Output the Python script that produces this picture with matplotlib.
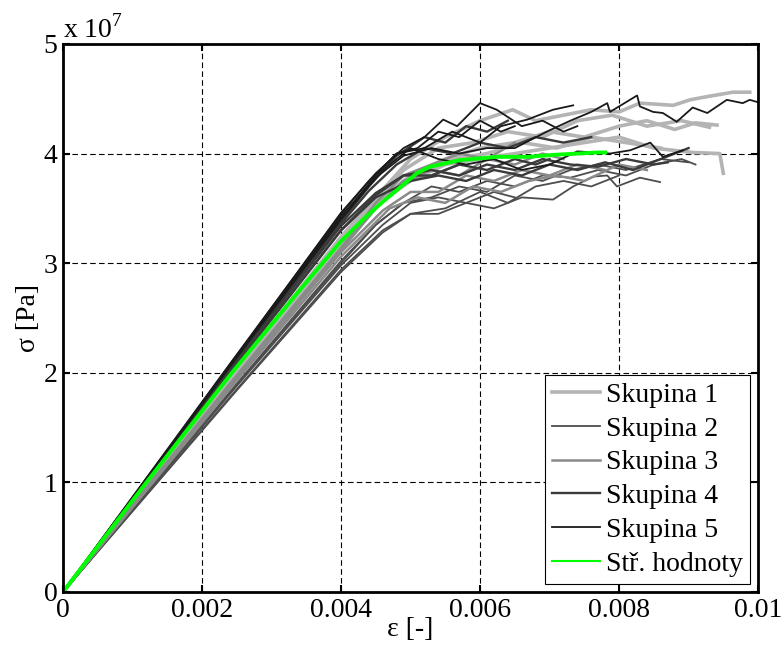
import matplotlib
matplotlib.use('Agg')
import matplotlib.pyplot as plt
from matplotlib.lines import Line2D
from matplotlib.ticker import FuncFormatter
import numpy as np

# strain in 1e-3, stress in 1e7 Pa
# Skupina 1
g1_e = [
    [0, 2.4, 4.0, 4.5, 5.0, 5.5, 6.0, 6.47, 6.8, 7.2, 7.6, 8.0, 8.3, 8.78, 9.02, 9.27, 9.64, 9.88],
    [0, 2.4, 4.0, 4.6, 5.0, 5.5, 6.0, 6.5, 7.0, 7.5, 8.0, 8.4, 8.8, 9.1, 9.41],
    [0, 2.4, 4.0, 4.6, 5.0, 5.5, 6.0, 6.5, 7.0, 7.5, 8.0, 8.5, 9.06, 9.45, 9.5],
    [0, 2.4, 4.0, 4.5, 4.9, 5.4, 5.9, 6.4, 6.9, 7.4, 7.9, 8.4, 8.9, 9.3],
    [0, 2.4, 4.0, 4.6, 5.1, 5.6, 6.1, 6.6, 7.1, 7.6, 8.1, 8.6],
]
g1_s = [
    [0, 1.96, 3.24, 3.6, 3.95, 4.15, 4.3, 4.40, 4.3, 4.35, 4.4, 4.38, 4.46, 4.44, 4.49, 4.52, 4.56, 4.56],
    [0, 1.94, 3.2, 3.6, 3.8, 3.95, 4.05, 4.1, 4.2, 4.15, 4.25, 4.3, 4.22, 4.28, 4.26],
    [0, 1.93, 3.18, 3.58, 3.75, 3.9, 3.95, 4.0, 4.05, 4.1, 4.15, 4.05, 4.01, 4.0, 3.82],
    [0, 1.96, 3.22, 3.58, 3.85, 4.05, 4.1, 4.2, 4.15, 4.3, 4.35, 4.25, 4.3, 4.24],
    [0, 1.93, 3.19, 3.57, 3.8, 3.95, 4.0, 4.1, 4.05, 4.15, 4.1, 4.05],
]
# Skupina 2
g2_e = [
    [0, 2.5, 4.0, 4.6, 5.0, 5.4, 5.8, 6.2, 6.6, 7.05, 7.34, 7.63, 7.83, 7.97, 8.3, 8.59],
    [0, 2.5, 4.0, 4.6, 5.0, 5.4, 5.8, 6.2, 6.5],
    [0, 2.5, 4.0, 4.5, 4.9, 5.3, 5.7, 6.1, 6.5, 6.9, 7.3, 7.7, 8.1, 8.5, 8.9, 9.1],
    [0, 2.5, 4.0, 4.6, 5.0, 5.5, 6.0, 6.4, 6.8, 7.2, 7.6, 8.0],
    [0, 2.4, 4.0, 4.5, 4.9, 5.3, 5.7, 6.1, 6.5, 6.9, 7.3, 7.7, 8.1, 8.6, 9.0],
]
g2_s = [
    [0, 1.85, 2.94, 3.3, 3.45, 3.45, 3.55, 3.5, 3.6, 3.58, 3.70, 3.79, 3.80, 3.70, 3.78, 3.74],
    [0, 1.88, 2.98, 3.35, 3.55, 3.6, 3.55, 3.65, 3.6],
    [0, 1.9, 3.02, 3.35, 3.55, 3.7, 3.65, 3.75, 3.7, 3.8, 3.78, 3.85, 3.8, 3.9, 3.95, 3.9],
    [0, 1.84, 2.92, 3.28, 3.45, 3.5, 3.65, 3.55, 3.7, 3.75, 3.7, 3.8],
    [0, 1.82, 3.0, 3.35, 3.55, 3.6, 3.7, 3.65, 3.8, 3.75, 3.85, 3.9, 3.85, 3.95, 3.92],
]
# Skupina 3
g3_e = [
    [0, 2.5, 4.0, 4.6, 5.0, 5.4, 5.8, 6.2, 6.6, 7.0, 7.4, 7.8],
    [0, 2.4, 4.0, 4.5, 4.9, 5.3, 5.7, 6.1, 6.5, 6.9, 7.2],
    [0, 2.5, 4.0, 4.7, 5.1, 5.5, 5.9, 6.3, 6.7, 7.1, 7.5, 8.0, 8.4],
    [0, 2.4, 4.0, 4.5, 4.9, 5.3, 5.7, 6.1, 6.5],
    [0, 2.4, 4.0, 4.5, 4.9, 5.3, 5.7],
]
g3_s = [
    [0, 1.95, 3.1, 3.48, 3.65, 3.65, 3.8, 3.75, 3.85, 3.8, 3.9, 3.85],
    [0, 1.88, 3.12, 3.5, 3.75, 3.85, 3.8, 3.95, 3.9, 4.0, 3.95],
    [0, 1.93, 3.06, 3.5, 3.6, 3.55, 3.7, 3.65, 3.75, 3.8, 3.75, 3.9, 3.85],
    [0, 1.9, 3.14, 3.55, 3.8, 3.9, 4.0, 3.95, 4.1],
    [0, 1.89, 3.12, 3.5, 3.75, 3.8, 3.9],
]
# Skupina 4
g4_e = [
    [0, 2.4, 4.0, 4.4, 4.8, 5.2, 5.6, 6.0, 6.4, 6.8, 7.2, 7.6],
    [0, 2.4, 4.0, 4.5, 4.9, 5.3, 5.7, 6.1, 6.5, 6.9, 7.3, 7.7, 8.1, 8.5, 8.7],
    [0, 2.3, 4.0, 4.5, 5.0, 5.4, 5.8, 6.2, 6.6, 7.0, 7.4, 7.8, 8.2, 8.6, 9.0],
    [0, 2.4, 4.0, 4.4, 4.8, 5.2, 5.5, 5.8, 6.1, 6.4],
    [0, 2.3, 4.0, 4.5, 4.9, 5.3, 5.7, 6.1, 6.5, 6.8, 7.0],
]
g4_s = [
    [0, 2.03, 3.36, 3.66, 3.9, 4.05, 4.0, 4.1, 4.05, 4.15, 4.1, 4.15],
    [0, 2.0, 3.3, 3.62, 3.8, 3.85, 3.8, 3.9, 3.85, 3.95, 3.9, 3.88, 3.95, 3.9, 3.92],
    [0, 1.93, 3.3, 3.6, 3.75, 3.8, 3.75, 3.85, 3.8, 3.9, 3.85, 3.92, 3.85, 3.95, 4.05],
    [0, 2.04, 3.38, 3.7, 3.98, 4.15, 4.1, 4.25, 4.2, 4.3],
    [0, 1.95, 3.34, 3.64, 3.8, 3.8, 3.9, 3.85, 3.95, 3.9, 3.95],
]
# Skupina 5
g5_e = [
    [0, 2.5, 4.0, 4.5, 4.9, 5.2, 5.47, 5.67, 6.0, 6.24, 6.6, 6.9, 7.2, 7.4],
    [0, 2.5, 4.0, 4.5, 4.9, 5.3, 5.7, 6.1, 6.5, 6.96, 7.3, 7.6, 7.83, 7.87, 8.26, 8.30,
     8.49, 8.63, 8.83, 9.06, 9.27, 9.55, 9.78, 9.88, 9.99],
    [0, 2.5, 4.0, 4.6, 5.0, 5.4, 5.8, 6.2, 6.6, 7.0, 7.4, 7.87, 8.16, 8.45, 8.63, 8.92],
    [0, 2.4, 4.0, 4.4, 4.8, 5.2, 5.6, 6.0, 6.3, 6.68, 7.05, 7.34],
    [0, 2.4, 4.0, 4.5, 4.8, 5.1, 5.4, 5.7, 6.0, 6.3, 6.5],
]
g5_s = [
    [0, 2.16, 3.46, 3.82, 4.05, 4.15, 4.31, 4.25, 4.46, 4.40, 4.25, 4.3, 4.2, 4.25],
    [0, 2.15, 3.43, 3.78, 3.98, 4.05, 4.0, 4.05, 4.05, 4.2, 4.3, 4.38, 4.46, 4.38, 4.53, 4.43,
     4.38, 4.37, 4.29, 4.42, 4.37, 4.49, 4.46, 4.49, 4.47],
    [0, 2.14, 3.4, 3.85, 4.05, 3.95, 3.9, 3.95, 3.85, 3.9, 4.02, 4.0, 4.03, 4.1, 3.97, 4.03],
    [0, 2.08, 3.45, 3.75, 4.0, 4.05, 4.2, 4.1, 4.25, 4.31, 4.4, 4.44],
    [0, 2.06, 3.42, 3.8, 4.0, 4.05, 4.2, 4.15, 4.3, 4.2, 4.25],
]
# Stredni hodnoty
mean_e = [0, 1.2, 2.43, 3.4, 4.0, 4.32, 4.6, 4.81, 5.09, 5.28, 5.71, 6.24, 6.68, 7.11, 7.7, 7.8]
mean_s = [0, 1.0, 2.0, 2.75, 3.2, 3.4, 3.56, 3.67, 3.82, 3.88, 3.94, 3.97, 3.97, 3.99, 4.01, 4.01]

labels = ['Skupina 1', 'Skupina 2', 'Skupina 3', 'Skupina 4', 'Skupina 5', 'Stř. hodnoty']

plt.rcParams['font.family'] = ['Liberation Serif', 'DejaVu Serif']
plt.rcParams['font.size'] = 20
plt.rcParams['mathtext.fontset'] = 'custom'
plt.rcParams['mathtext.rm'] = 'Liberation Serif'

fig = plt.figure(figsize=(7.84, 6.59), dpi=100)
ax = fig.add_axes([0.0804, 0.1017, 0.8865, 0.8316])

groups = [
    (g1_e, g1_s, '#b4b4b4', 2.6),
    (g2_e, g2_s, '#4d4d4d', 1.3),
    (g3_e, g3_s, '#8a8a8a', 1.8),
    (g4_e, g4_s, '#3a3a3a', 1.7),
    (g5_e, g5_s, '#1a1a1a', 1.3),
]
for es, ss, col, lw in groups:
    for e, s in zip(es, ss):
        ax.plot(np.array(e) * 1e-3, np.array(s) * 1e7, color=col, lw=lw)

ax.plot(np.array(mean_e) * 1e-3, np.array(mean_s) * 1e7, color='#00ff00', lw=2.8)

ax.set_xlim(0, 0.01)
ax.set_ylim(0, 5e7)
ax.set_xticks([0, 0.002, 0.004, 0.006, 0.008, 0.01])
ax.set_xticklabels(['0', '0.002', '0.004', '0.006', '0.008', '0.01'])
ax.set_yticks(np.arange(0, 6) * 1e7)
ax.yaxis.set_major_formatter(FuncFormatter(lambda v, p: '%g' % (v / 1e7)))
ax.text(0.0, 1.0, r'x 10$^{7}$', transform=ax.transAxes, fontsize=20, va='bottom', ha='left')

ax.grid(True, color='black', linestyle=(0, (5, 3)), lw=0.8)
ax.tick_params(direction='in', top=True, right=True, length=5, width=1.5, pad=4)
for sp in ax.spines.values():
    sp.set_linewidth(2)

ax.set_xlabel('ε [-]', labelpad=-4)
ax.set_ylabel('σ [Pa]', labelpad=2)

handles = [
    Line2D([], [], color='#b4b4b4', lw=2.6),
    Line2D([], [], color='#4d4d4d', lw=1.3),
    Line2D([], [], color='#8a8a8a', lw=1.8),
    Line2D([], [], color='#3a3a3a', lw=1.7),
    Line2D([], [], color='#1a1a1a', lw=1.3),
    Line2D([], [], color='#00ff00', lw=1.5),
]
leg = ax.legend(handles, labels, loc='lower right', fancybox=False, framealpha=1,
                edgecolor='black', handlelength=1.75, handletextpad=0.2,
                labelspacing=0.3, borderpad=0.25, borderaxespad=0.3, fontsize=20)
leg.get_frame().set_linewidth(0.8)

fig.savefig('out.png', dpi=100)
